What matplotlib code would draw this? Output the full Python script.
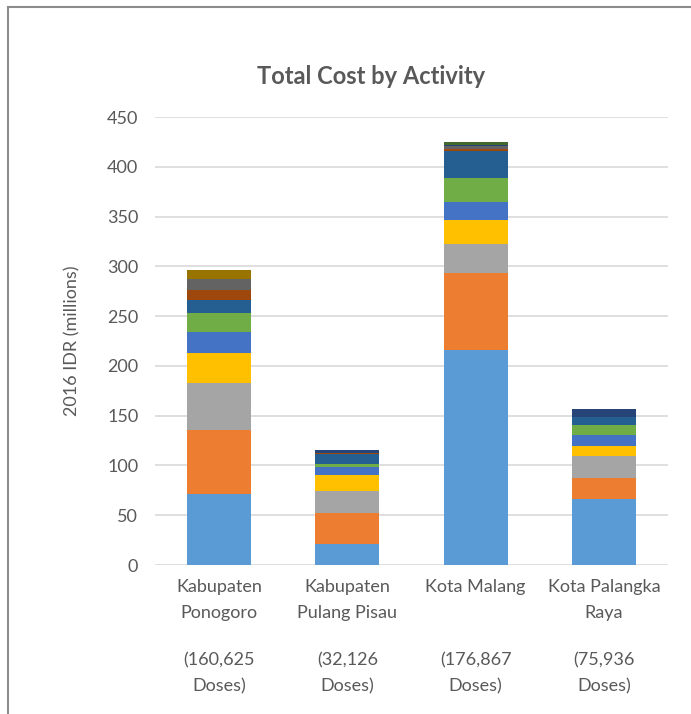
import numpy as np
import matplotlib.pyplot as plt
from matplotlib.patches import Rectangle
import matplotlib.transforms as mtransforms

plt.rcParams['font.family'] = ['Lato', 'DejaVu Sans']

# Districts and dose counts
districts = ["Kabupaten\nPonogoro", "Kabupaten\nPulang Pisau", "Kota Malang", "Kota Palangka\nRaya"]
doses = ["(160,625\nDoses)", "(32,126\nDoses)", "(176,867\nDoses)", "(75,936\nDoses)"]

# Cost per activity (2016 IDR millions), one list per activity, one value per district
activity_01 = [71.7, 21.0, 215.7, 66.0]
activity_02 = [64.0, 31.7, 77.3, 21.7]
activity_03 = [47.6, 21.3, 29.3, 21.3]
activity_04 = [29.7, 16.0, 24.0, 10.7]
activity_05 = [21.3, 8.3, 18.7, 10.6]
activity_06 = [19.0, 2.7, 24.0, 10.7]
activity_07 = [12.7, 10.7, 26.7, 8.0]
activity_08 = [10.3, 0.5, 2.6, 0.0]
activity_09 = [11.0, 0.5, 2.7, 0.0]
activity_10 = [8.7, 0.0, 0.3, 0.0]
activity_11 = [0.0, 2.5, 0.3, 8.0]
activity_12 = [0.0, 0.0, 3.0, 0.0]

activities = [activity_01, activity_02, activity_03, activity_04, activity_05, activity_06,
              activity_07, activity_08, activity_09, activity_10, activity_11, activity_12]

# Excel default palette
colors = ['#5B9BD5', '#ED7D31', '#A5A5A5', '#FFC000', '#4472C4', '#70AD47',
          '#255E91', '#9E480E', '#636363', '#997300', '#264478', '#43682B']

text_color = '#595959'

fig = plt.figure(figsize=(6.91, 7.14), dpi=100)
ax = fig.add_axes([155 / 691, 1 - 565 / 714, 513 / 691, 448 / 714])

x = np.arange(len(districts))
bottom = np.zeros(len(districts))
for vals, c in zip(activities, colors):
    vals = np.array(vals)
    ax.bar(x, vals, width=0.5, bottom=bottom, color=c, zorder=3)
    bottom += vals

ax.set_xlim(-0.5, len(districts) - 0.5)
ax.set_ylim(0, 450)
ax.set_yticks(np.arange(0, 451, 50))
ax.grid(axis='y', color='#D9D9D9', linewidth=1.2, zorder=0)
for s in ax.spines.values():
    s.set_visible(False)

ax.set_xticks(x)
ax.set_xticklabels(districts, linespacing=1.75)
ax.tick_params(axis='both', length=0, labelsize=13, colors=text_color)
ax.tick_params(axis='y', pad=12)
ax.tick_params(axis='x', pad=10)

# dose counts below the district names
trans = mtransforms.blended_transform_factory(ax.transData, ax.transAxes)
for xi, d in zip(x, doses):
    ax.text(xi, -0.241, d, transform=trans, ha='center', va='center',
            fontsize=13, color=text_color, linespacing=1.75)

ax.set_ylabel("2016 IDR (millions)", fontsize=13, color=text_color)
ax.yaxis.set_label_coords(-0.146, 0.5)

fig.text(371 / 691, 1 - 76 / 714, "Total Cost by Activity", ha='center', va='center',
         fontsize=17, fontweight='bold', color=text_color)

# chart frame (cropped on the right and bottom)
fig.add_artist(Rectangle((8 / 691, -0.1), 1.2, 1.1 - 7 / 714, transform=fig.transFigure,
                         fill=False, edgecolor='#8C8C8C', linewidth=1.5, clip_on=False))

fig.savefig("out.png", dpi=100)
